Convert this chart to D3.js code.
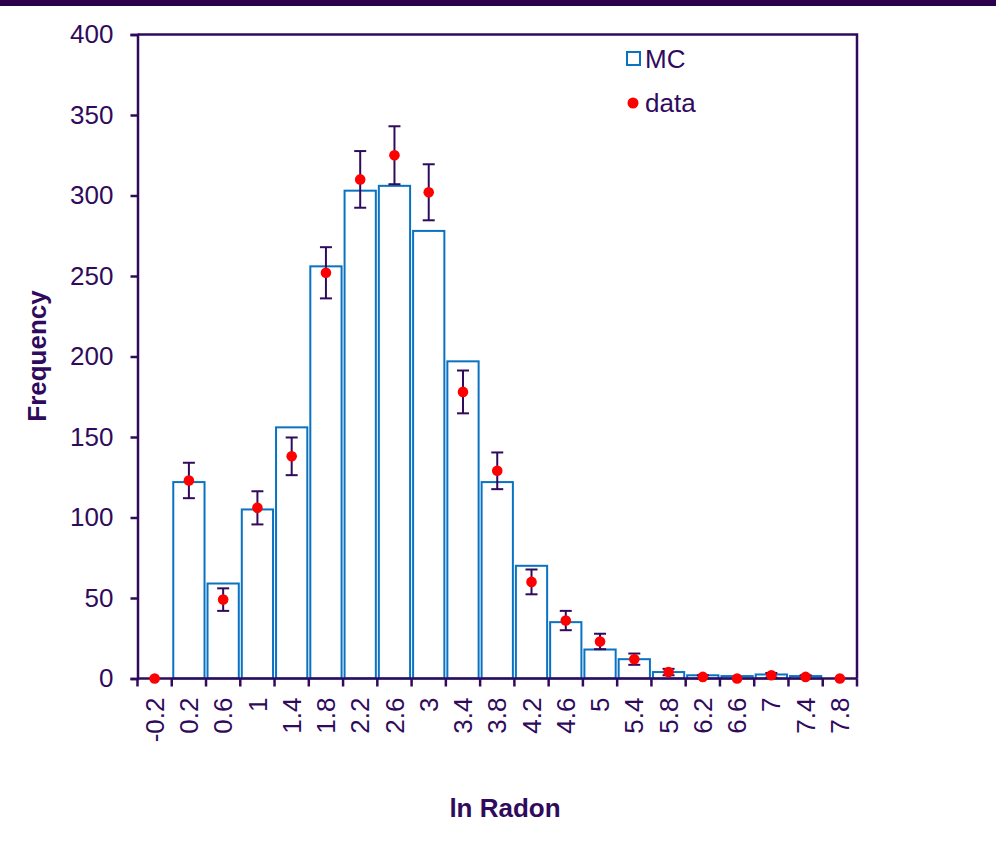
<!DOCTYPE html>
<html>
<head>
<meta charset="utf-8">
<script src="https://cdn.jsdelivr.net/npm/d3@7"></script>
<style>
  body { margin: 0; background: #fff; }
  text { font-family: "Liberation Sans", Arial, sans-serif; fill: #300a5c; }
</style>
</head>
<body>
<svg id="chart"></svg>
<script>
// Chart data
var categories = ["-0.2", "0.2", "0.6", "1", "1.4", "1.8", "2.2", "2.6", "3", "3.4", "3.8",
                  "4.2", "4.6", "5", "5.4", "5.8", "6.2", "6.6", "7", "7.4", "7.8"];
var mcValues = [0, 122, 59, 105, 156, 256, 303, 306, 278, 197, 122, 70, 35, 18, 12, 4, 2, 1.5, 2.5, 1.5, 0];
var dataValues = [0, 123, 49, 106, 138, 252, 310, 325, 302, 178, 129, 60, 36, 23, 12, 4, 1, 0, 2, 1, 0];
var dataErrors = [0, 11, 7, 10.3, 11.7, 15.9, 17.6, 18, 17.4, 13.3, 11.4, 7.7, 6, 4.8, 3.5, 2, 1, 0, 1.4, 1, 0];
var yTicks = [0, 50, 100, 150, 200, 250, 300, 350, 400];

var purple = "#300a5c";
var blue = "#0a72c2";
var fontSize = "26px";

// Plot area
var width = 996, height = 847;
var plotLeft = 137.5, plotRight = 857, plotTop = 34.5, plotBottom = 678.5;

var svg = d3.select("#chart")
    .attr("width", width)
    .attr("height", height);

// dark band along the top
svg.append("rect")
    .attr("x", 0).attr("y", 0)
    .attr("width", width).attr("height", 6)
    .attr("fill", "#2d004e");

var xScale = d3.scaleBand().domain(categories).range([plotLeft, plotRight]);
var yScale = d3.scaleLinear().domain([0, 400]).range([plotBottom, plotTop]);

// frame (top and right)
svg.append("path")
    .attr("d", "M" + plotLeft + "," + plotTop + "H" + plotRight + "V" + plotBottom)
    .attr("fill", "none")
    .attr("stroke", purple)
    .attr("stroke-width", 2.5);

// Y axis
var yAxis = svg.append("g")
    .attr("transform", "translate(" + plotLeft + ",0)")
    .call(d3.axisLeft(yScale).tickValues(yTicks).tickSize(7).tickPadding(17));
yAxis.select(".domain").attr("stroke", purple).attr("stroke-width", 2.5);
yAxis.selectAll(".tick line").attr("stroke", purple).attr("stroke-width", 2.5);
yAxis.selectAll(".tick text")
    .attr("fill", purple)
    .style("font-size", fontSize)
    .style("font-family", "'Liberation Sans', Arial, sans-serif");

// MC histogram bars
svg.selectAll(".bar")
    .data(categories)
    .enter().append("rect")
    .attr("class", "bar")
    .attr("x", function(d) { return xScale(d) + 1.5; })
    .attr("width", xScale.bandwidth() - 3)
    .attr("y", function(d, i) { return yScale(mcValues[i]); })
    .attr("height", function(d, i) { return yScale(0) - yScale(mcValues[i]); })
    .attr("fill", "#fff")
    .attr("stroke", blue)
    .attr("stroke-width", 2)
    .style("display", function(d, i) { return mcValues[i] > 0 ? null : "none"; });

// X axis line and ticks at bin edges
svg.append("line")
    .attr("x1", plotLeft).attr("x2", plotRight)
    .attr("y1", plotBottom).attr("y2", plotBottom)
    .attr("stroke", purple)
    .attr("stroke-width", 2.5);

var edges = categories.map(function(d) { return xScale(d); }).concat([plotRight]);
svg.selectAll(".xtick")
    .data(edges)
    .enter().append("line")
    .attr("class", "xtick")
    .attr("x1", function(d) { return d; })
    .attr("x2", function(d) { return d; })
    .attr("y1", plotBottom)
    .attr("y2", plotBottom + 8)
    .attr("stroke", purple)
    .attr("stroke-width", 2.5);

// rotated tick labels
svg.selectAll(".xlabel")
    .data(categories)
    .enter().append("text")
    .attr("class", "xlabel")
    .attr("transform", function(d) {
      return "translate(" + (xScale(d) + xScale.bandwidth() / 2) + "," + (plotBottom + 19) + ") rotate(-90)";
    })
    .attr("text-anchor", "end")
    .attr("dy", "0.35em")
    .style("font-size", fontSize)
    .text(function(d) { return d; });

// error bars of the data
var errG = svg.selectAll(".err")
    .data(categories)
    .enter().append("g")
    .attr("class", "err")
    .style("display", function(d, i) { return dataErrors[i] > 0 ? null : "none"; });

errG.append("line")
    .attr("x1", function(d) { return xScale(d) + xScale.bandwidth() / 2; })
    .attr("x2", function(d) { return xScale(d) + xScale.bandwidth() / 2; })
    .attr("y1", function(d, i) { return yScale(dataValues[i] - dataErrors[i]); })
    .attr("y2", function(d, i) { return yScale(dataValues[i] + dataErrors[i]); })
    .attr("stroke", purple)
    .attr("stroke-width", 2);

[-1, 1].forEach(function(s) {
  errG.append("line")
      .attr("x1", function(d) { return xScale(d) + xScale.bandwidth() / 2 - 6; })
      .attr("x2", function(d) { return xScale(d) + xScale.bandwidth() / 2 + 6; })
      .attr("y1", function(d, i) { return yScale(dataValues[i] + s * dataErrors[i]); })
      .attr("y2", function(d, i) { return yScale(dataValues[i] + s * dataErrors[i]); })
      .attr("stroke", purple)
      .attr("stroke-width", 2);
});

// data points
svg.selectAll(".dot")
    .data(categories)
    .enter().append("circle")
    .attr("class", "dot")
    .attr("cx", function(d) { return xScale(d) + xScale.bandwidth() / 2; })
    .attr("cy", function(d, i) { return yScale(dataValues[i]); })
    .attr("r", 5.3)
    .attr("fill", "#ff0000");

// Legend
svg.append("rect")
    .attr("x", 627).attr("y", 52)
    .attr("width", 13).attr("height", 13)
    .attr("fill", "#fff")
    .attr("stroke", blue)
    .attr("stroke-width", 2);
svg.append("text")
    .attr("x", 645).attr("y", 68)
    .style("font-size", fontSize)
    .text("MC");
svg.append("circle")
    .attr("cx", 633).attr("cy", 103)
    .attr("r", 5.5)
    .attr("fill", "#ff0000");
svg.append("text")
    .attr("x", 645).attr("y", 112)
    .style("font-size", fontSize)
    .text("data");

// Axis titles
svg.append("text")
    .attr("x", 505).attr("y", 817)
    .attr("text-anchor", "middle")
    .style("font-size", fontSize)
    .style("font-weight", "bold")
    .text("ln Radon");

svg.append("text")
    .attr("transform", "translate(46,356) rotate(-90)")
    .attr("text-anchor", "middle")
    .style("font-size", fontSize)
    .style("font-weight", "bold")
    .text("Frequency");
</script>
</body>
</html>
